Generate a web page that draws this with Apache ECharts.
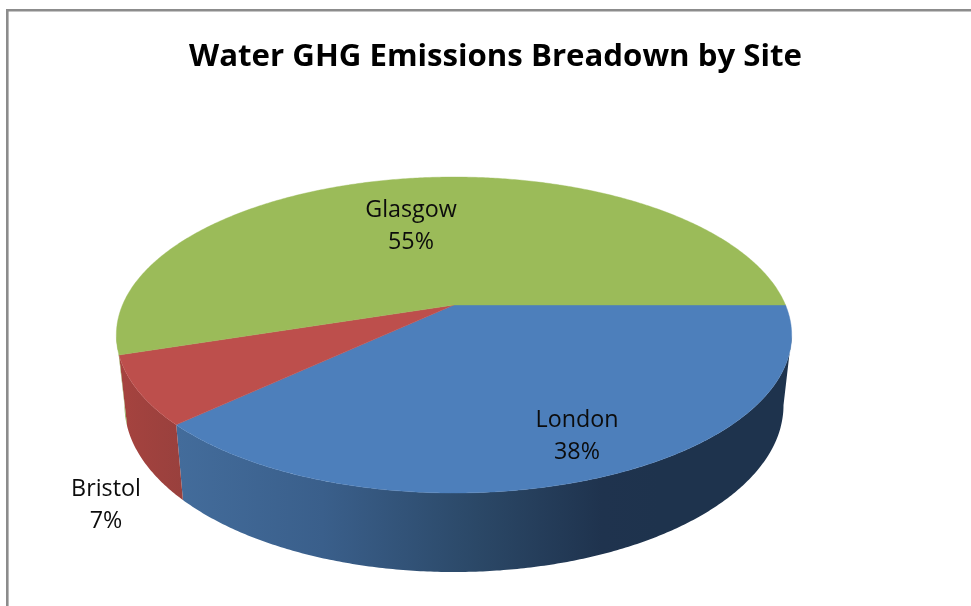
<!DOCTYPE html>
<html>
<head>
<meta charset="utf-8">
<style>
  html, body { margin: 0; padding: 0; background: #fff; }
  #chart { width: 971px; height: 606px; }
</style>
<script src="https://cdn.jsdelivr.net/npm/echarts@6/dist/echarts.min.js"></script>
</head>
<body>
<div id="chart"></div>
<script>
// Site shares of water GHG emissions, clockwise from the right-hand edge of the disc.
const sites = ['London', 'Bristol', 'Glasgow'];
const shares = [38, 7, 55];

const topColors = ['#4d7fbb', '#bd4f4c', '#9bbb59'];
const sideColors = [
  [[0, '#436c9b'], [0.3, '#3a5f8b'], [0.62, '#2b4867'], [0.88, '#1f334e'], [1, '#1e334d']],
  [[0, '#a6433f'], [1, '#98403d']],
  [[0, '#8aa84f'], [1, '#8aa84f']]
];
// Horizontal extent of each side gradient, in pixels.
const sideSpans = [[178, 660], [118, 186], [116, 135]];
// Label centres, in pixels.
const labelCentres = [[577, 436], [106, 505], [411, 226]];

// Perspective projection of the unit disc onto the page.
const apex = { x: 454, y: 305 };
const lower = { x: 454, y: 373.5 };
const tilt = -0.19;
const topRadius = { x: 331.5, y: 152.3 };
const bottomRadius = { x: 323.5, y: 160.8 };

// Rim angles where the wall meets the outline of the disc.
const rimStart = Math.asin(-tilt) * 180 / Math.PI;
const rimEnd = 180 - rimStart;

function project(deg, origin, radius) {
  const a = deg * Math.PI / 180;
  const u = Math.cos(a), v = Math.sin(a);
  const d = 1 + tilt * v;
  return [origin.x + radius.x * u / d, origin.y + radius.y * v / d];
}

const total = shares.reduce((s, v) => s + v, 0);
let running = 0;
const sweeps = shares.map(v => {
  const from = running / total * 360;
  running += v;
  return [from, running / total * 360];
});

function arc(from, to, origin, radius) {
  const pts = [];
  const n = Math.max(2, Math.ceil((to - from) * 2));
  for (let i = 0; i <= n; i++) {
    pts.push(project(from + (to - from) * i / n, origin, radius));
  }
  return pts;
}

// The wall is only visible between the two outline angles on the near side.
function renderSide(params) {
  const i = params.dataIndex;
  const from = Math.min(Math.max(sweeps[i][0], rimStart), rimEnd);
  const to = Math.min(Math.max(sweeps[i][1], rimStart), rimEnd);
  if (to <= from) return { type: 'group', children: [] };
  const points = arc(from, to, apex, topRadius)
    .concat(arc(from, to, lower, bottomRadius).reverse());
  return {
    type: 'polygon',
    shape: { points },
    style: {
      fill: {
        type: 'linear', global: true,
        x: sideSpans[i][0], y: 0, x2: sideSpans[i][1], y2: 0,
        colorStops: sideColors[i].map(s => ({ offset: s[0], color: s[1] }))
      }
    }
  };
}

function renderTop(params) {
  const i = params.dataIndex;
  const points = [[apex.x, apex.y]].concat(arc(sweeps[i][0], sweeps[i][1], apex, topRadius));
  return {
    type: 'polygon',
    shape: { points },
    style: { fill: topColors[i], stroke: topColors[i], lineWidth: 0.4 }
  };
}

function renderLabel(params) {
  const i = params.dataIndex;
  return {
    type: 'text',
    x: labelCentres[i][0],
    y: labelCentres[i][1],
    style: {
      text: sites[i] + '\n' + Math.round(shares[i] / total * 100) + '%',
      fill: '#0c0c0c',
      font: '400 23.3px "Open Sans", sans-serif',
      lineHeight: 32,
      align: 'center',
      verticalAlign: 'middle'
    }
  };
}

const rows = sites.map((name, i) => ({ name, value: shares[i] }));
const chart = echarts.init(document.getElementById('chart'), null, { renderer: 'canvas' });
chart.setOption({
  animation: false,
  backgroundColor: '#ffffff',
  title: {
    text: 'Water GHG Emissions Breadown by Site',
    left: 495,
    top: 37,
    textAlign: 'center',
    textStyle: { fontFamily: '"Open Sans", sans-serif', fontWeight: 700, fontSize: 31.2, color: '#000000' }
  },
  graphic: [{
    type: 'polyline',
    silent: true,
    shape: { points: [[7.3, 606], [7.3, 10.3], [971, 10.3]] },
    style: { stroke: '#8c8c8c', lineWidth: 2.6, fill: null }
  }],
  series: [
    { type: 'custom', name: 'Wall', coordinateSystem: 'none', silent: true, z: 1, data: rows, renderItem: renderSide },
    { type: 'custom', name: 'Share', coordinateSystem: 'none', silent: true, z: 2, data: rows, renderItem: renderTop },
    { type: 'custom', name: 'Labels', coordinateSystem: 'none', silent: true, z: 3, data: rows, renderItem: renderLabel }
  ]
}, true);
chart.setOption({ title: { left: 490.5 } });
</script>
</body>
</html>
